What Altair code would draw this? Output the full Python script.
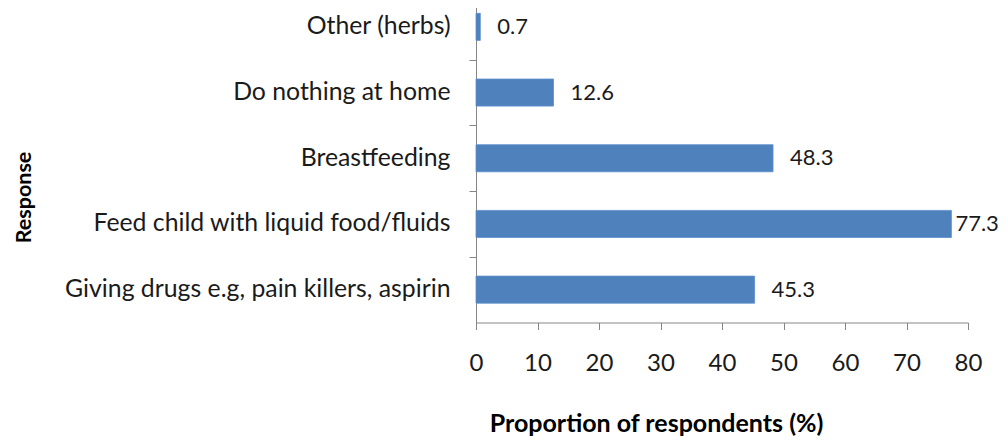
import altair as alt
import pandas as pd

categories = [
    "Other (herbs)",
    "Do nothing at home",
    "Breastfeeding",
    "Feed child with liquid food/fluids",
    "Giving drugs e.g, pain killers, aspirin",
]
values = [0.7, 12.6, 48.3, 77.3, 45.3]
x_ticks = [0, 10, 20, 30, 40, 50, 60, 70, 80]

df = pd.DataFrame({"Response": categories, "Value": values})

FONT = "Lato"
GREY = "#868686"
TXT = "#1a1a1a"

PLOT_H = 328.5
STEP = PLOT_H / 5.0

y_scale = alt.Scale(paddingInner=0.588, paddingOuter=0.294)
x_scale = alt.Scale(domain=[0, 80], nice=False)

y_enc = alt.Y(
    "Response:N",
    sort=None,
    scale=y_scale,
    axis=alt.Axis(
        title="Response",
        titleFont=FONT,
        titleFontSize=21.5,
        titleFontWeight="bold",
        titleColor="#000000",
        titleX=-446,
        titleY=203,
        titleAngle=-90,
        titleAlign="center",
        titleBaseline="alphabetic",
        labelFont=FONT,
        labelFontSize=24.8,
        labelColor=TXT,
        labelPadding=19,
        labelLimit=600,
        ticks=True,
        tickSize=7,
        tickColor=GREY,
        tickOffset=-STEP / 2,
        labelOffset=STEP / 2,
        domainColor=GREY,
        domainWidth=1,
    ),
)

x_enc = alt.X(
    "Value:Q",
    scale=x_scale,
    axis=alt.Axis(
        values=x_ticks,
        title="Proportion of respondents (%)",
        titleFont=FONT,
        titleFontSize=25,
        titleFontWeight="bold",
        titleColor="#000000",
        titleX=180,
        titleY=109,
        titleAlign="center",
        titleBaseline="alphabetic",
        labelFont=FONT,
        labelFontSize=24,
        labelColor=TXT,
        labelPadding=22,
        labelFlush=False,
        tickSize=7,
        tickColor=GREY,
        domainColor=GREY,
        grid=False,
    ),
)

bars = alt.Chart(df).mark_bar(color="#4F81BD", stroke="#5B8ECB", strokeWidth=0.8).encode(
    y=y_enc,
    x=x_enc,
)

labels_normal = (
    alt.Chart(df)
    .transform_filter("datum.Value < 70")
    .mark_text(align="left", baseline="middle", dx=17, font=FONT, fontSize=22, color=TXT)
    .encode(
        y=alt.Y("Response:N", sort=None, scale=y_scale),
        x=alt.X("Value:Q", scale=x_scale),
        text=alt.Text("Value:Q", format=".1f"),
    )
)

labels_long = (
    alt.Chart(df)
    .transform_filter("datum.Value >= 70")
    .mark_text(align="left", baseline="middle", dx=4, font=FONT, fontSize=22, color=TXT)
    .encode(
        y=alt.Y("Response:N", sort=None, scale=y_scale),
        x=alt.X("Value:Q", scale=x_scale),
        text=alt.Text("Value:Q", format=".1f"),
    )
)

chart = (
    alt.layer(bars, labels_normal, labels_long)
    .properties(
        width=492,
        height=PLOT_H,
        autosize=alt.AutoSizeParams(type="none"),
        padding={"left": 468, "top": -14, "right": 32, "bottom": 116.5},
        background="white",
    )
    .configure_view(stroke=None)
)

chart.save("out.html", embed_options={"renderer": "svg", "actions": False})
